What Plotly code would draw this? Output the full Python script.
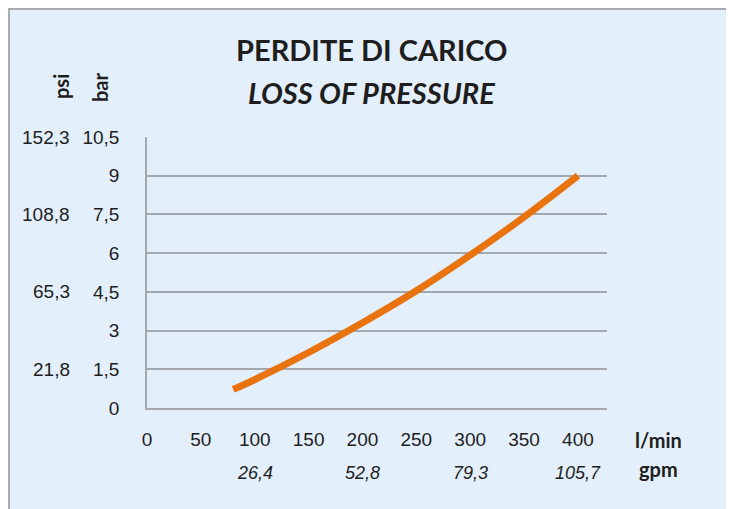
import plotly.graph_objects as go

# ---- data ----
flow_lmin = [80, 100, 150, 200, 250, 300, 350, 400]
loss_bar = [0.72, 1.1, 2.15, 3.3, 4.54, 5.92, 7.4, 9.0]

x_ticks = [0, 50, 100, 150, 200, 250, 300, 350, 400]
x_tick_text = ["0", "50", "100", "150", "200", "250", "300", "350", "400"]
gpm_pos = [100, 200, 300, 400]
gpm_text = ["26,4", "52,8", "79,3", "105,7"]

bar_ticks = [0, 1.5, 3, 4.5, 6, 7.5, 9, 10.5]
bar_tick_text = ["0", "1,5", "3", "4,5", "6", "7,5", "9", "10,5"]
psi_pos = [10.5, 7.5, 4.5, 1.5]
psi_text = ["152,3", "108,8", "65,3", "21,8"]

# page body has an 8px default margin -> figure coords = screen coords - 8
OFF = 8
W, H = 734, 509
PL, PR, PT, PB = 147, 607, 137, 408          # plot area in screen pixels
L, T = PL - OFF, PT - OFF
R, B = W - (PR - OFF), H - (PB - OFF)
pw, ph = PR - PL, PB - PT

def px(xs):
    return (xs - PL) / pw

def py(ys):
    return (PB - ys) / ph

BG = "#E3EFFB"
GRID = "#A3A8AE"
TXT = "#1E1E1E"
FONT = "Liberation Sans, Arial, sans-serif"
BFONT = "Lato, Liberation Sans, sans-serif"

fig = go.Figure()
fig.add_trace(go.Scatter(
    x=flow_lmin, y=loss_bar, mode="lines",
    line=dict(color="#E8730F", width=7, shape="spline", smoothing=1.0),
    hoverinfo="skip", showlegend=False,
))

shapes = [dict(type="rect", xref="paper", yref="paper",
               x0=px(9), x1=px(800), y0=py(9), y1=py(600),
               fillcolor=BG, line=dict(color="#A9AEB4", width=2), layer="below")]

def ann(x, y, text, size, family=BFONT, xref="paper", yref="paper",
        xanchor="center", angle=0, style="normal"):
    return dict(x=x, y=y, xref=xref, yref=yref, text=text, showarrow=False,
                xanchor=xanchor, yanchor="middle", textangle=angle,
                font=dict(family=family, size=size, color=TXT, style=style))

annotations = []
for v, t in zip(psi_pos, psi_text):
    annotations.append(ann(px(72), v, t, 19, family=FONT, yref="y", xanchor="right"))
for v, t in zip(gpm_pos, gpm_text):
    annotations.append(ann(v, py(473), t, 18, family=FONT, xref="x", style="italic"))
annotations += [
    ann(px(658), py(440), "<b>l/min</b>", 20),
    ann(px(658), py(469), "<b>gpm</b>", 20),
    ann(px(61), py(87), "<b>psi</b>", 20, angle=-90),
    ann(px(100), py(87), "<b>bar</b>", 20, angle=-90),
    ann(px(371), py(50), "<b>PERDITE DI CARICO</b>", 29),
    ann(px(371), py(92), "<b><i>LOSS OF PRESSURE</i></b>", 29),
]

fig.update_layout(
    width=W, height=H,
    margin=dict(l=L, r=R, t=T, b=B, pad=0),
    paper_bgcolor="white", plot_bgcolor="rgba(0,0,0,0)",
    shapes=shapes, annotations=annotations,
    xaxis=dict(range=[0, 427], tickvals=x_ticks, ticktext=x_tick_text,
               showgrid=False, zeroline=False, showline=True, linecolor=GRID, linewidth=1.5,
               ticks="", ticklabelstandoff=13,
               tickfont=dict(family=FONT, size=19, color=TXT), fixedrange=True),
    yaxis=dict(range=[0, 10.5], tickvals=bar_ticks, ticktext=bar_tick_text,
               showgrid=True, gridcolor=GRID, gridwidth=1.5, zeroline=False,
               showline=True, linecolor=GRID, linewidth=1.5,
               ticks="", ticklabelstandoff=22,
               tickfont=dict(family=FONT, size=19, color=TXT), fixedrange=True),
)

fig.write_html("out.html")
